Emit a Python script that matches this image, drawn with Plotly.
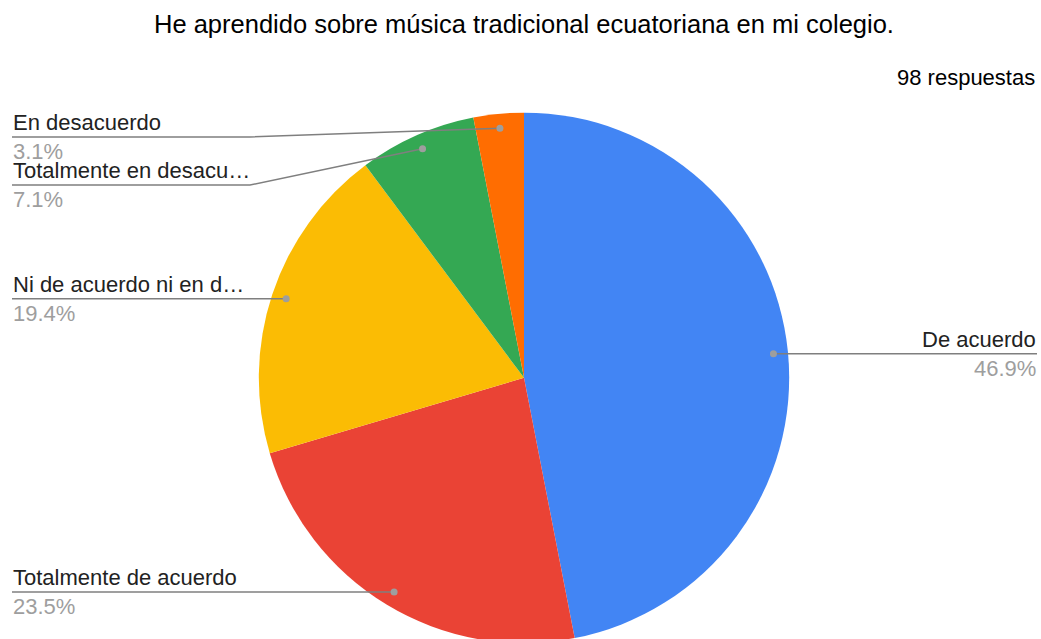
import math
import plotly.graph_objects as go

# ---- data ----
categories = ["De acuerdo", "Totalmente de acuerdo", "Ni de acuerdo ni en desacuerdo",
              "Totalmente en desacuerdo", "En desacuerdo"]
display_labels = ["De acuerdo", "Totalmente de acuerdo", "Ni de acuerdo ni en d…",
                  "Totalmente en desacu…", "En desacuerdo"]
counts = [46, 23, 19, 7, 3]
colors = ["#4285F4", "#EA4335", "#FBBC04", "#34A853", "#FF6D01"]
title_text = "He aprendido sobre música tradicional ecuatoriana en mi colegio."
responses_text = "98 respuestas"

# ---- layout geometry ----
W, H = 1041, 639
TOP_OFF = 4  # page top offset (pixels)
CX = 524
DOM_Y = [0.0, 0.83]
R = (DOM_Y[1] - DOM_Y[0]) * H / 2
CY = TOP_OFF + H - (DOM_Y[0] * H + R)
DOM_X = [(CX - R) / W, (CX + R) / W]
FONT = "Arial, Liberation Sans, sans-serif"
FS = 22
LABEL_C = "#222222"
PCT_C = "#9E9E9E"
LINE_C = "#7F7F7F"
DOT_C = "#9E9E9E"
LEFT_X, RIGHT_X, ELBOW_X = 12, 1037, 250
MIN_Y, GAP = 137, 48


def px(x):
    return x / W


def py(y):
    return 1 - (y - TOP_OFF) / H


fig = go.Figure(go.Pie(
    labels=categories, values=counts, sort=False, direction="clockwise", rotation=0,
    marker=dict(colors=colors, line=dict(color="white", width=0)),
    textinfo="none", hoverinfo="label+percent", showlegend=False,
    domain=dict(x=DOM_X, y=DOM_Y),
))

total = sum(counts)
items = []
cum = 0
for cat, lab, v in zip(categories, display_labels, counts):
    mid = (cum + v / 2) / total * 2 * math.pi
    cum += v
    dx = CX + 0.945 * R * math.sin(mid)
    dy = CY - 0.945 * R * math.cos(mid)
    pct = f"{v / total * 100:.1f}%"
    items.append(dict(lab=lab, pct=pct, dx=dx, dy=dy, side="L" if math.sin(mid) < 0 else "R"))

shapes, annos = [], []
for side in ["L", "R"]:
    grp = sorted([it for it in items if it["side"] == side], key=lambda t: t["dy"])
    prev = -1e9
    for it in grp:
        ly = max(it["dy"], prev + GAP, MIN_Y if side == "L" else 0)
        prev = ly
        endx = LEFT_X if side == "L" else RIGHT_X
        if abs(ly - it["dy"]) < 0.5:
            path = f"M {px(it['dx'])},{py(it['dy'])} L {px(endx)},{py(ly)}"
        else:
            path = (f"M {px(it['dx'])},{py(it['dy'])} L {px(ELBOW_X)},{py(ly)} "
                    f"L {px(endx)},{py(ly)}")
        shapes.append(dict(type="path", xref="paper", yref="paper", path=path,
                           line=dict(color=LINE_C, width=1.5)))
        rr = 3.5
        shapes.append(dict(type="circle", xref="paper", yref="paper",
                           x0=px(it["dx"] - rr), x1=px(it["dx"] + rr),
                           y0=py(it["dy"] + rr), y1=py(it["dy"] - rr),
                           fillcolor=DOT_C, line=dict(width=0)))
        xa = "left" if side == "L" else "right"
        annos.append(dict(x=px(endx), y=py(ly - 1), xref="paper", yref="paper",
                          text=it["lab"], showarrow=False, xanchor=xa, yanchor="bottom",
                          font=dict(family=FONT, size=FS, color=LABEL_C), borderpad=0))
        annos.append(dict(x=px(endx), y=py(ly + 1), xref="paper", yref="paper",
                          text=it["pct"], showarrow=False, xanchor=xa, yanchor="top",
                          font=dict(family=FONT, size=FS, color=PCT_C), borderpad=0))

annos.append(dict(x=px(CX), y=py(8), xref="paper", yref="paper", text=title_text,
                  showarrow=False, xanchor="center", yanchor="top",
                  font=dict(family=FONT, size=25.5, color="#000000")))
annos.append(dict(x=px(RIGHT_X), y=py(63), xref="paper", yref="paper", text=responses_text,
                  showarrow=False, xanchor="right", yanchor="top",
                  font=dict(family=FONT, size=FS, color="#000000")))

fig.update_layout(width=W, height=H, margin=dict(l=0, r=0, t=0, b=0),
                  paper_bgcolor="white", plot_bgcolor="white",
                  shapes=shapes, annotations=annos)
fig.write_html("out.html",
               post_script=f"document.body.style.margin='{TOP_OFF}px 0 0 0';"
                           "document.body.style.overflow='hidden';"
                           "document.documentElement.style.overflow='hidden';")
